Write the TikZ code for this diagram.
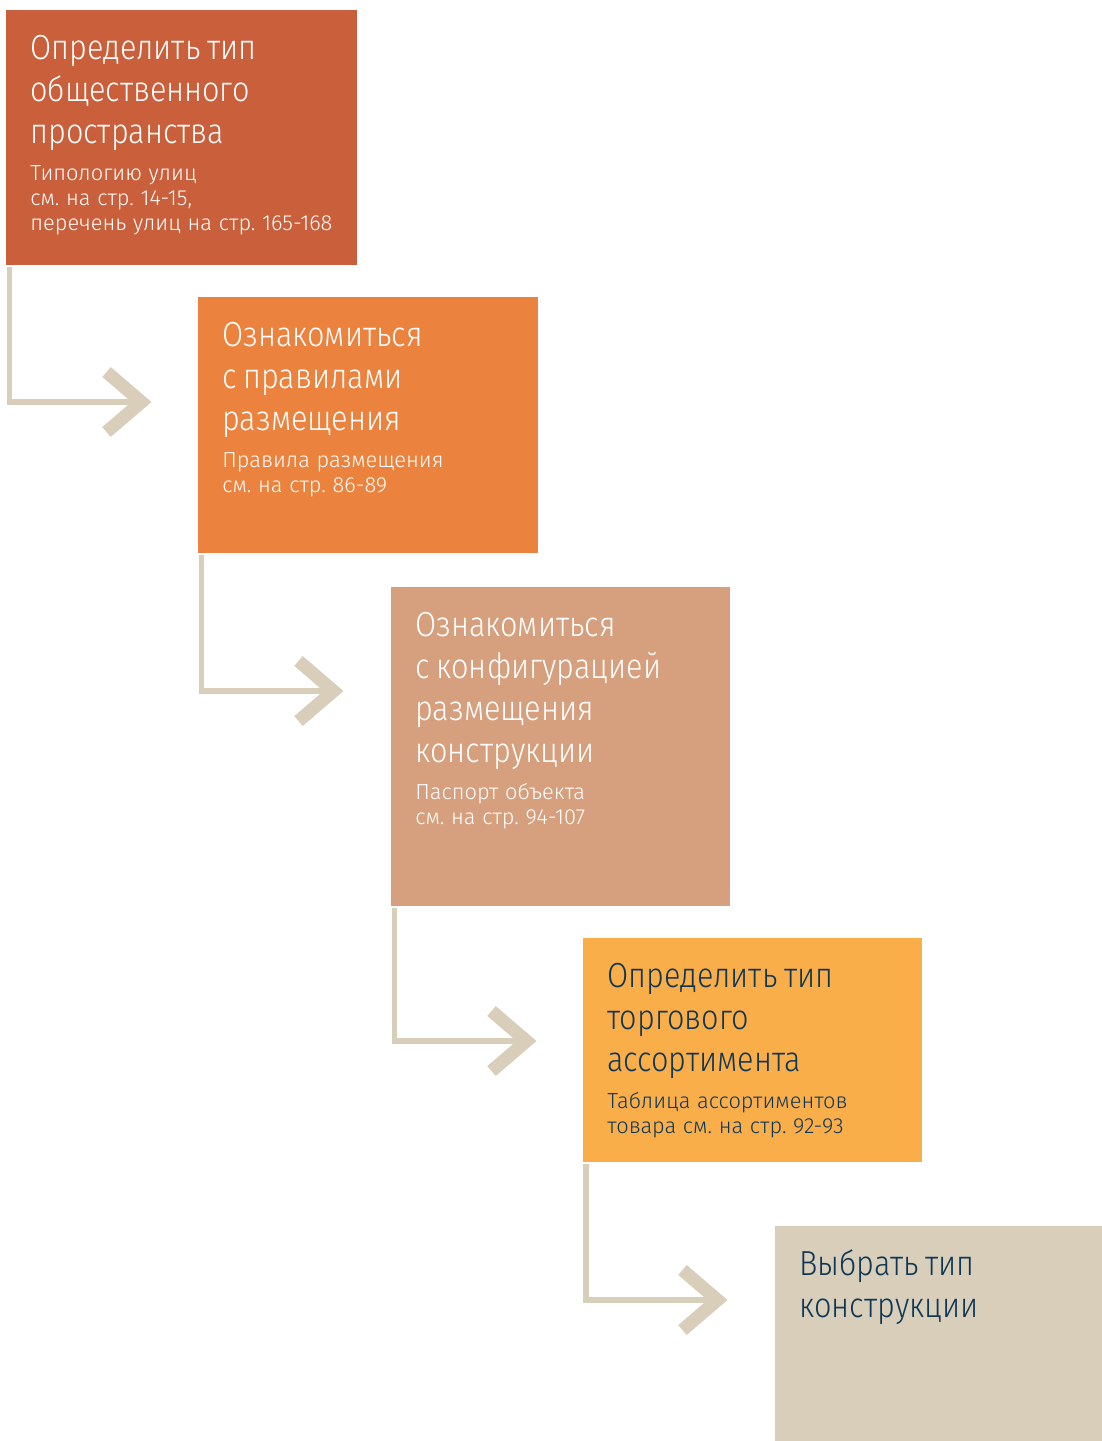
\documentclass[tikz,border=0pt]{standalone}
\usepackage{fontspec}
\setmainfont{Fira Sans Light}[FakeStretch=0.88]
\newfontfamily\subfam{Fira Sans Light}
\usetikzlibrary{calc}
\definecolor{rust}{HTML}{C95F3B}
\definecolor{carrot}{HTML}{EB823E}
\definecolor{sand}{HTML}{D6A07E}
\definecolor{amber}{HTML}{FAAE4A}
\definecolor{stone}{HTML}{D8CEBA}
\definecolor{ink}{HTML}{0D3755}
\newcommand{\ttlfont}{\fontsize{17.4}{21}\selectfont}
\newcommand{\subfont}{\subfam\fontsize{10.9}{12.5}\selectfont}
\newcommand{\firstline}{\rule{0pt}{15pt}}
\frenchspacing
\begin{document}
\begin{tikzpicture}[x=0.5pt,y=-0.5pt,
    box/.style = {shape=rectangle, anchor=north west, inner sep=0pt, outer sep=0pt},
    txt/.style = {anchor=north west, inner sep=0pt, text width=165pt, align=left},
    link/.style = {draw=stone, line width=2.6pt},
    chev/.style = {draw=stone, line width=6.5pt, line join=miter}]
\useasboundingbox (0,0) rectangle (1102,1441);
% steps
\node[box, fill=rust, minimum width=175.5pt, minimum height=127.5pt] (b1) at (6,10) {};
\node[box, fill=carrot, minimum width=170pt, minimum height=128pt] (b2) at (198,297) {};
\node[box, fill=sand, minimum width=169.5pt, minimum height=159.5pt] (b3) at (391,587) {};
\node[box, fill=amber, minimum width=169.5pt, minimum height=112pt] (b4) at (583,938) {};
\node[box, fill=stone, minimum width=163.5pt, minimum height=107.5pt] (b5) at (775,1226) {};
% texts
\node[txt, text=white] (t1) at ($(b1.north west)+(24,19)$)
  {\ttlfont\firstline Определить тип\\общественного\\пространства\par\vspace{6pt}
   \subfont Типологию улиц\\см. на стр. 14-15,\\перечень улиц на стр. 165-168\par};
\node[txt, text=white] (t2) at ($(b2.north west)+(24,19)$)
  {\ttlfont\firstline Ознакомиться\\с правилами\\размещения\par\vspace{6pt}
   \subfont Правила размещения\\см. на стр. 86-89\par};
\node[txt, text=white] (t3) at ($(b3.north west)+(24,19)$)
  {\ttlfont\firstline Ознакомиться\\с конфигурацией\\размещения\\конструкции\par\vspace{6pt}
   \subfont Паспорт объекта\\см. на стр. 94-107\par};
\node[txt, text=ink] (t4) at ($(b4.north west)+(24,19)$)
  {\ttlfont\firstline Определить тип\\торгового\\ассортимента\par\vspace{6pt}
   \subfont Таблица ассортиментов\\товара см. на стр. 92-93\par};
\node[txt, text=ink] (t5) at ($(b5.north west)+(24,19)$)
  {\ttlfont\firstline Выбрать тип\\конструкции\par};
% connectors
\coordinate (a1) at (141.5,402);
\coordinate (a2) at (333.5,691);
\coordinate (a3) at (526.5,1041);
\coordinate (a4) at (717.5,1300);
\draw[link] ([xshift=1.75pt,yshift=-1pt]b1.south west) |- (a1);
\draw[link] ([xshift=1.75pt,yshift=-1pt]b2.south west) |- (a2);
\draw[link] ([xshift=1.75pt,yshift=-1pt]b3.south west) |- (a3);
\draw[link] ([xshift=1.5pt,yshift=-1pt]b4.south west) |- (a4);
\draw[chev] (a1) ++(-35,-30) -- (a1) -- ++(-35,30);
\draw[chev] (a2) ++(-35,-30) -- (a2) -- ++(-35,30);
\draw[chev] (a3) ++(-35,-30) -- (a3) -- ++(-35,30);
\draw[chev] (a4) ++(-35,-30) -- (a4) -- ++(-35,30);
\end{tikzpicture}
\end{document}
